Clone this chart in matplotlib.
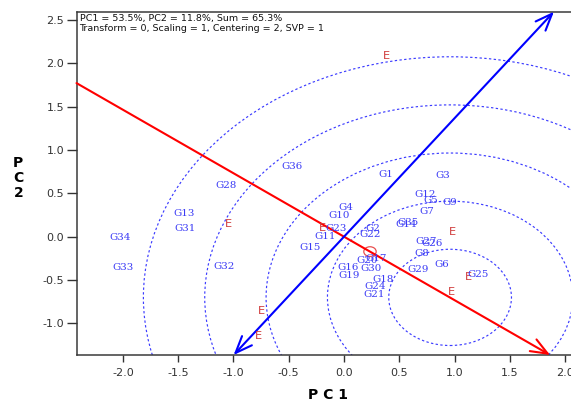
import numpy as np
import matplotlib
matplotlib.use("Agg")
import matplotlib.pyplot as plt
from matplotlib.patches import Circle

# genotype scores (PC1, PC2)
gen_names = ["G1", "G2", "G3", "G4", "G5", "G6", "G7", "G8", "G9", "G10",
             "G11", "G12", "G13", "G14", "G15", "G16", "G17", "G18", "G19", "G20",
             "G21", "G22", "G23", "G24", "G25", "G26", "G27", "G28", "G29", "G30",
             "G31", "G32", "G33", "G34", "G35", "G36"]
gen_pc1 = [0.380, 0.262, 0.896, 0.018, 0.787, 0.887, 0.751, 0.706, 0.959, -0.045,
           -0.172, 0.733, -1.448, 0.561, -0.308, 0.036, 0.290, 0.353, 0.045, 0.208,
           0.271, 0.235, -0.072, 0.281, 1.213, 0.796, 0.742, -1.068, 0.670, 0.244,
           -1.439, -1.086, -2.000, -2.027, 0.579, -0.471]
gen_pc2 = [0.723, 0.100, 0.700, 0.331, 0.412, -0.315, 0.285, -0.199, 0.400, 0.250,
           -0.003, 0.481, 0.262, 0.135, -0.119, -0.350, -0.246, -0.488, -0.453, -0.280,
           -0.672, 0.020, 0.100, -0.580, -0.441, -0.084, -0.050, 0.585, -0.384, -0.372,
           0.089, -0.349, -0.360, -0.015, 0.158, 0.804]

# environment scores
env_pc1 = [0.380, -1.050, -0.199, 0.977, 1.122, 0.968, -0.751, -0.778]
env_pc2 = [2.084, 0.146, 0.100, 0.054, -0.465, -0.638, -0.858, -1.147]

# average environment, ideal genotype and ring radii
avg_env = (0.235, -0.172)
ideal = (0.96, -0.70)
ring_radii = [0.555, 1.11, 1.665, 2.22, 2.775]

xlim = (-2.42, 2.10)
ylim = (-1.365, 2.595)

fig = plt.figure(figsize=(5.71, 4.03), dpi=100)
ax = fig.add_axes([0.134, 0.119, 0.875, 0.852])
ax.set_xlim(*xlim)
ax.set_ylim(*ylim)

blue_c = "#3b3bf5"
for r in ring_radii:
    ax.add_patch(Circle(ideal, r, fill=False, edgecolor="#3c3cff",
                        lw=0.85, linestyle=(0, (2.0, 2.0))))

# AEC lines through origin
m = avg_env[1] / avg_env[0]
red_start = (xlim[0], m * xlim[0])
red_end = (ylim[0] / m, ylim[0])
ax.annotate("", xy=red_end, xytext=red_start, annotation_clip=False,
            arrowprops=dict(arrowstyle="->,head_length=0.55,head_width=0.22",
                            color="#ff0000", lw=1.5, mutation_scale=22,
                            shrinkA=0, shrinkB=0))
pm = -1.0 / m
blue_start = (ylim[0] / pm, ylim[0])
blue_end = (ylim[1] / pm, ylim[1])
ax.annotate("", xy=blue_end, xytext=blue_start, annotation_clip=False,
            arrowprops=dict(arrowstyle="<->,head_length=0.55,head_width=0.22",
                            color="#0000ff", lw=1.5, mutation_scale=22,
                            shrinkA=0, shrinkB=0))

ax.add_patch(Circle(avg_env, 0.056, fill=False, edgecolor="#e85050", lw=0.9))

for x, y in zip(env_pc1, env_pc2):
    ax.text(x, y, "E", color="#d03a3a", fontsize=8.2, ha="center", va="center",
            family="DejaVu Sans")

for name, x, y in zip(gen_names, gen_pc1, gen_pc2):
    ax.text(x, y, name, color=blue_c, fontsize=7.4, ha="center", va="center",
            family="DejaVu Serif")

ax.text(0.006, 0.993, "PC1 = 53.5%, PC2 = 11.8%, Sum = 65.3%\n"
        "Transform = 0, Scaling = 1, Centering = 2, SVP = 1",
        transform=ax.transAxes, ha="left", va="top", fontsize=6.8,
        linespacing=1.2, color="#111111")

ax.set_xticks([-2.0, -1.5, -1.0, -0.5, 0.0, 0.5, 1.0, 1.5, 2.0])
ax.set_yticks([-1.0, -0.5, 0.0, 0.5, 1.0, 1.5, 2.0, 2.5])
ax.xaxis.set_major_formatter(matplotlib.ticker.FormatStrFormatter("%.1f"))
ax.yaxis.set_major_formatter(matplotlib.ticker.FormatStrFormatter("%.1f"))
ax.tick_params(axis="x", length=5, width=1, pad=4, colors="#333333", labelsize=8)
ax.tick_params(axis="y", length=7.5, width=1, pad=1.5, colors="#333333", labelsize=8)
for s in ["left", "bottom", "top"]:
    ax.spines[s].set_color("#3a3a3a")
    ax.spines[s].set_linewidth(1.1)
ax.spines["right"].set_visible(False)

fig.text(0.574, 0.02, "P C 1", fontsize=10, fontweight="bold", ha="center", va="center")
fig.text(0.032, 0.558, "P\nC\n2", fontsize=10, fontweight="bold", ha="center", va="center",
         linespacing=1.08)

fig.savefig("out.png", dpi=100)
